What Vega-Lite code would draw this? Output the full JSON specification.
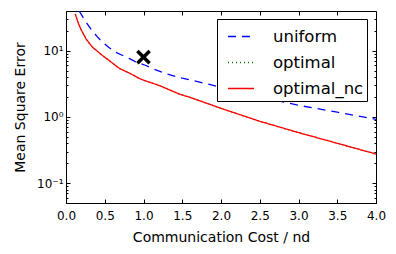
{
  "$schema": "https://vega.github.io/schema/vega-lite/v6.json",
  "width": 310,
  "height": 192,
  "autosize": "none",
  "padding": {"left": 66, "top": 11, "right": 20, "bottom": 51},
  "background": "white",
  "config": {
    "view": {"stroke": "black", "strokeWidth": 1},
    "font": "DejaVu Sans",
    "axis": {"grid": false, "domain": false, "zindex": 1, "labelFont": "DejaVu Sans", "titleFont": "DejaVu Sans", "labelColor": "black", "titleColor": "black", "tickColor": "black", "tickWidth": 1, "titleFontWeight": "normal", "labelFontSize": 12, "titleFontSize": 14}
  },
  "datasets": {
    "curves": [
      {"series": "uniform", "x": 0.17, "y": 40},
      {"series": "uniform", "x": 0.25, "y": 28},
      {"series": "uniform", "x": 0.32, "y": 21.5},
      {"series": "uniform", "x": 0.4, "y": 16.5},
      {"series": "uniform", "x": 0.47, "y": 13.5},
      {"series": "uniform", "x": 0.55, "y": 11.3},
      {"series": "uniform", "x": 0.645, "y": 9.5},
      {"series": "uniform", "x": 0.75, "y": 8.3},
      {"series": "uniform", "x": 0.82, "y": 7.6},
      {"series": "uniform", "x": 0.9, "y": 6.8},
      {"series": "uniform", "x": 1.03, "y": 6.0},
      {"series": "uniform", "x": 1.15, "y": 5.2},
      {"series": "uniform", "x": 1.29, "y": 4.5},
      {"series": "uniform", "x": 1.5, "y": 3.86},
      {"series": "uniform", "x": 1.66, "y": 3.5},
      {"series": "uniform", "x": 2.0, "y": 2.82},
      {"series": "uniform", "x": 2.5, "y": 2.05},
      {"series": "uniform", "x": 2.89, "y": 1.6},
      {"series": "uniform", "x": 3.0, "y": 1.5},
      {"series": "uniform", "x": 3.5, "y": 1.18},
      {"series": "uniform", "x": 4.0, "y": 0.92},
      {"series": "optimal", "x": 0.12, "y": 36},
      {"series": "optimal", "x": 0.13, "y": 33},
      {"series": "optimal", "x": 0.16, "y": 26},
      {"series": "optimal", "x": 0.19, "y": 21.5},
      {"series": "optimal", "x": 0.26, "y": 15},
      {"series": "optimal", "x": 0.34, "y": 11.4},
      {"series": "optimal", "x": 0.47, "y": 8.5},
      {"series": "optimal", "x": 0.58, "y": 6.8},
      {"series": "optimal", "x": 0.69, "y": 5.4},
      {"series": "optimal", "x": 0.82, "y": 4.6},
      {"series": "optimal", "x": 0.95, "y": 3.8},
      {"series": "optimal", "x": 1.0, "y": 3.6},
      {"series": "optimal", "x": 1.2, "y": 3.0},
      {"series": "optimal", "x": 1.47, "y": 2.2},
      {"series": "optimal", "x": 1.6, "y": 1.98},
      {"series": "optimal", "x": 2.0, "y": 1.35},
      {"series": "optimal", "x": 2.5, "y": 0.86},
      {"series": "optimal", "x": 3.0, "y": 0.58},
      {"series": "optimal", "x": 3.5, "y": 0.4},
      {"series": "optimal", "x": 4.0, "y": 0.275},
      {"series": "optimal_nc", "x": 0.12, "y": 36},
      {"series": "optimal_nc", "x": 0.13, "y": 33},
      {"series": "optimal_nc", "x": 0.16, "y": 26},
      {"series": "optimal_nc", "x": 0.19, "y": 21.5},
      {"series": "optimal_nc", "x": 0.26, "y": 15},
      {"series": "optimal_nc", "x": 0.34, "y": 11.4},
      {"series": "optimal_nc", "x": 0.47, "y": 8.5},
      {"series": "optimal_nc", "x": 0.58, "y": 6.8},
      {"series": "optimal_nc", "x": 0.69, "y": 5.4},
      {"series": "optimal_nc", "x": 0.82, "y": 4.6},
      {"series": "optimal_nc", "x": 0.95, "y": 3.8},
      {"series": "optimal_nc", "x": 1.0, "y": 3.6},
      {"series": "optimal_nc", "x": 1.2, "y": 3.0},
      {"series": "optimal_nc", "x": 1.47, "y": 2.2},
      {"series": "optimal_nc", "x": 1.6, "y": 1.98},
      {"series": "optimal_nc", "x": 2.0, "y": 1.35},
      {"series": "optimal_nc", "x": 2.5, "y": 0.86},
      {"series": "optimal_nc", "x": 3.0, "y": 0.58},
      {"series": "optimal_nc", "x": 3.5, "y": 0.4},
      {"series": "optimal_nc", "x": 4.0, "y": 0.275}
    ],
    "marker": [{"x": 1.0, "y": 8.0}]
  },
  "layer": [
    {
      "data": {"name": "curves"},
      "mark": {"type": "line", "clip": true, "strokeWidth": 1.3},
      "encoding": {
        "x": {"field": "x", "type": "quantitative",
              "scale": {"domain": [0, 4], "nice": false, "zero": false},
              "axis": {"orient": "bottom", "title": "Communication Cost / nd", "values": [0, 0.5, 1, 1.5, 2, 2.5, 3, 3.5, 4], "format": ".1f", "tickSize": -4, "labelPadding": 11, "titlePadding": 9, "labelFlush": false}},
        "y": {"field": "y", "type": "quantitative",
              "scale": {"type": "log", "domain": [0.05, 40], "nice": false},
              "axis": {"orient": "left", "title": "Mean Square Error",
                       "values": [0.05, 0.06, 0.07, 0.08, 0.09, 0.1, 0.2, 0.3, 0.4, 0.5, 0.6, 0.7, 0.8, 0.9, 1, 2, 3, 4, 5, 6, 7, 8, 9, 10, 20, 30],
                       "labelExpr": "datum.value == 0.1 ? '10⁻¹' : datum.value == 1 ? '10⁰' : datum.value == 10 ? '10¹' : ''",
                       "tickSize": {"condition": {"test": "datum.value == 0.1 || datum.value == 1 || datum.value == 10", "value": -4}, "value": -2},
                       "labelPadding": 7, "titlePadding": 9, "labelFlush": false}},
        "color": {"field": "series", "type": "nominal",
                  "scale": {"domain": ["uniform", "optimal", "optimal_nc"], "range": ["#0000ff", "#008000", "#ff0000"]},
                  "legend": {"orient": "none", "legendX": 151, "legendY": 8, "zindex": 2, "title": null, "strokeColor": "black", "fillColor": "white", "padding": 3.5, "symbolOffset": 6.5, "symbolType": "stroke", "symbolSize": 676, "symbolStrokeWidth": 1.3, "labelFontSize": 16.5, "labelOffset": 18, "rowPadding": 3, "labelFont": "DejaVu Sans", "labelColor": "black", "cornerRadius": 0, "labelExpr": "datum.label + '\u2009'"}},
        "strokeDash": {"field": "series", "type": "nominal",
                       "scale": {"domain": ["uniform", "optimal", "optimal_nc"], "range": [[8, 6], [1, 3], [1, 0]]},
                       "legend": null}
      }
    },
    {
      "data": {"name": "marker"},
      "mark": {"type": "point", "shape": "M-1,-1L1,1M-1,1L1,-1", "filled": false, "stroke": "black", "strokeWidth": 3.5, "size": 150, "opacity": 1},
      "encoding": {
        "x": {"field": "x", "type": "quantitative",
              "axis": {"orient": "top", "title": null, "labels": false, "values": [0, 0.5, 1, 1.5, 2, 2.5, 3, 3.5, 4], "tickSize": -4}},
        "y": {"field": "y", "type": "quantitative",
              "axis": {"orient": "right", "title": null, "labels": false,
                       "values": [0.05, 0.06, 0.07, 0.08, 0.09, 0.1, 0.2, 0.3, 0.4, 0.5, 0.6, 0.7, 0.8, 0.9, 1, 2, 3, 4, 5, 6, 7, 8, 9, 10, 20, 30],
                       "tickSize": {"condition": {"test": "datum.value == 0.1 || datum.value == 1 || datum.value == 10", "value": -4}, "value": -2}}}
      }
    }
  ],
  "resolve": {"axis": {"x": "independent", "y": "independent"}}
}
